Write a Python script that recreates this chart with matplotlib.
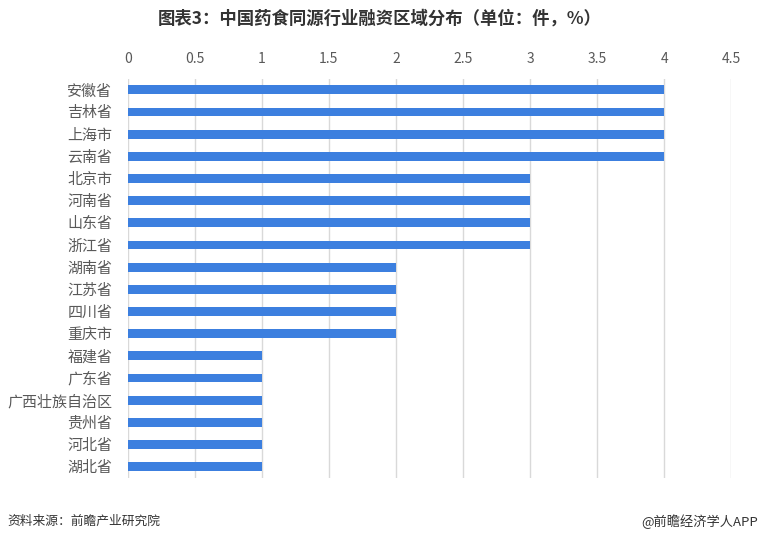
import matplotlib.pyplot as plt

plt.rcParams['font.family'] = ['Noto Sans CJK SC', 'DejaVu Sans']

# 各省市融资数量
regions = ['安徽省', '吉林省', '上海市', '云南省', '北京市', '河南省', '山东省', '浙江省',
           '湖南省', '江苏省', '四川省', '重庆市', '福建省', '广东省', '广西壮族自治区',
           '贵州省', '河北省', '湖北省']
counts = [4, 4, 4, 4, 3, 3, 3, 3, 2, 2, 2, 2, 1, 1, 1, 1, 1, 1]
xticks = [0, 0.5, 1, 1.5, 2, 2.5, 3, 3.5, 4, 4.5]
xticklabels = ['0', '0.5', '1', '1.5', '2', '2.5', '3', '3.5', '4', '4.5']

fig = plt.figure(figsize=(7.6, 5.43), dpi=100)
ax = fig.add_axes([0.168, 0.12, 0.794, 0.735])

ypos = list(range(len(regions)))
ax.barh(ypos, counts, height=0.4, color='#3c7fdf', zorder=3)

ax.set_ylim(len(regions) - 0.5, -0.5)
ax.set_yticks(ypos)
ax.set_yticklabels(regions, fontsize=10.8, color='#595959')
ax.set_xlim(0, 4.5)
ax.set_xticks(xticks)
ax.set_xticklabels(xticklabels, fontsize=10, color='#595959')
ax.xaxis.tick_top()
ax.tick_params(axis='x', length=0, pad=9)
ax.tick_params(axis='y', length=0, pad=11)
ax.grid(axis='x', color='#d9d9d9', linewidth=1, zorder=0)
for s in ax.spines.values():
    s.set_visible(False)

fig.text(0.5, 0.965, '图表3：中国药食同源行业融资区域分布（单位：件，%）', ha='center', va='center',
         fontsize=12.5, fontweight='bold', color='#333333')
fig.text(0.01, 0.04, '资料来源：前瞻产业研究院', ha='left', va='center', fontsize=9.2, color='#333333')
fig.text(0.997, 0.04, '@前瞻经济学人APP', ha='right', va='center', fontsize=9.5, color='#333333')

plt.savefig('out.png', dpi=100)
